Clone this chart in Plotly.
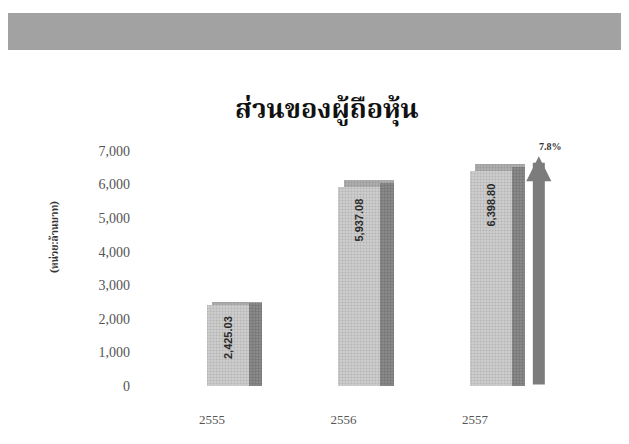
import plotly.graph_objects as go

years = ["2555", "2556", "2557"]
values = [2425.03, 5937.08, 6398.80]
value_labels = ["2,425.03", "5,937.08", "6,398.80"]
y_ticks = [0, 1000, 2000, 3000, 4000, 5000, 6000, 7000]
y_tick_labels = ["0", "1,000", "2,000", "3,000", "4,000", "5,000", "6,000", "7,000"]
growth_label = "7.8%"
title_text = "ส่วนของผู้ถือหุ้น"
y_title = "(หน่วย:ล้านบาท)"

xpos = list(range(len(years)))

W, H = 629, 444
L, R, T, B = 141, 87, 143, 66
ph = H - T - B
pw = W - L - R

thai_font = "Norasi, 'Noto Serif Thai', 'Noto Sans Thai Looped', Garuda, 'Noto Sans', sans-serif"

fig = go.Figure()
# top face of bars (medium grey, drawn first so the front covers it)
fig.add_trace(go.Bar(
    x=xpos, y=[v * 1.035 for v in values], width=0.38, offset=-0.12,
    marker=dict(color="#a8a8a8", line=dict(width=0),
                pattern=dict(shape=".", fgcolor="#858585", bgcolor="#adadad", size=3, solidity=0.35)),
    hoverinfo="skip", showlegend=False))
# side face (darker)
fig.add_trace(go.Bar(
    x=xpos, y=[v * 1.02 for v in values], width=0.1, offset=0.16,
    marker=dict(color="#858585", line=dict(width=0),
                pattern=dict(shape=".", fgcolor="#5a5a5a", bgcolor="#8a8a8a", size=3, solidity=0.4)),
    hoverinfo="skip", showlegend=False))
# front face
fig.add_trace(go.Bar(
    x=xpos, y=values, width=0.32, offset=-0.16,
    marker=dict(color="#c6c6c6", line=dict(width=0),
                pattern=dict(shape=".", fgcolor="#9a9a9a", bgcolor="#cdcdcd", size=3, solidity=0.35)),
    hoverinfo="skip", showlegend=False))

# value labels rotated inside the bars
for i, (v, t) in enumerate(zip(values, value_labels)):
    if v < 4000:
        fig.add_annotation(x=i, y=v * 0.6, text="<b>" + t + "</b>", textangle=-90,
                           showarrow=False, font=dict(size=11, color="#2a2a2a", family="Liberation Sans"))
    else:
        fig.add_annotation(x=i, y=v, yanchor="top", yshift=-10, text="<b>" + t + "</b>",
                           textangle=-90, showarrow=False,
                           font=dict(size=11, color="#2a2a2a", family="Liberation Sans"))

# growth arrow
arrow_x = 2.365
fig.add_annotation(x=arrow_x, y=values[2] * 1.07, ax=arrow_x, ay=0, axref="x", ayref="y",
                   xref="x", yref="y", text="", showarrow=True,
                   arrowhead=2, arrowsize=0.42, arrowwidth=12, arrowcolor="#7c7c7c")
fig.add_annotation(x=arrow_x, y=values[2] * 1.07, xanchor="center", yanchor="bottom", xshift=12, yshift=2,
                   text="<b>" + growth_label + "</b>", showarrow=False,
                   font=dict(size=10, color="#333", family="Liberation Serif"))

# y-axis title (rotated)
fig.add_annotation(xref="paper", yref="paper", x=(37 - L) / pw, y=(H - B - 229) / ph,
                   text="<b>" + y_title + "</b>", textangle=-90, showarrow=False,
                   font=dict(size=10, color="#333", family=thai_font))

# top grey banner
fig.add_shape(type="rect", xref="paper", yref="paper",
              x0=-L / pw, x1=(W - L) / pw, y0=(H - B - 42) / ph, y1=(H - B - 5) / ph,
              fillcolor="#a2a2a2", line=dict(width=0), layer="below")

fig.update_layout(
    width=W, height=H,
    margin=dict(l=L, r=R, t=T, b=B),
    paper_bgcolor="white", plot_bgcolor="rgba(0,0,0,0)",
    barmode="overlay", bargap=0,
    title=dict(text="<b>" + title_text + "</b>", x=0.507, xanchor="center",
               y=1 - 101 / H, yanchor="middle",
               font=dict(size=27, color="#111", family=thai_font)),
    xaxis=dict(range=[-0.6, 2.45], tickmode="array", tickvals=[i - 0.12 for i in xpos], ticktext=years,
               showgrid=False, zeroline=False, showline=False, ticks="",
               tickfont=dict(size=13, color="#555", family="Liberation Serif"),
               ticklabelstandoff=24),
    yaxis=dict(range=[0, 7000], tickmode="array", tickvals=y_ticks, ticktext=y_tick_labels,
               showgrid=False, zeroline=False, showline=False, ticks="",
               tickfont=dict(size=14, color="#555", family="Liberation Serif"),
               ticklabelstandoff=18),
)

fig.write_html("out.html")
